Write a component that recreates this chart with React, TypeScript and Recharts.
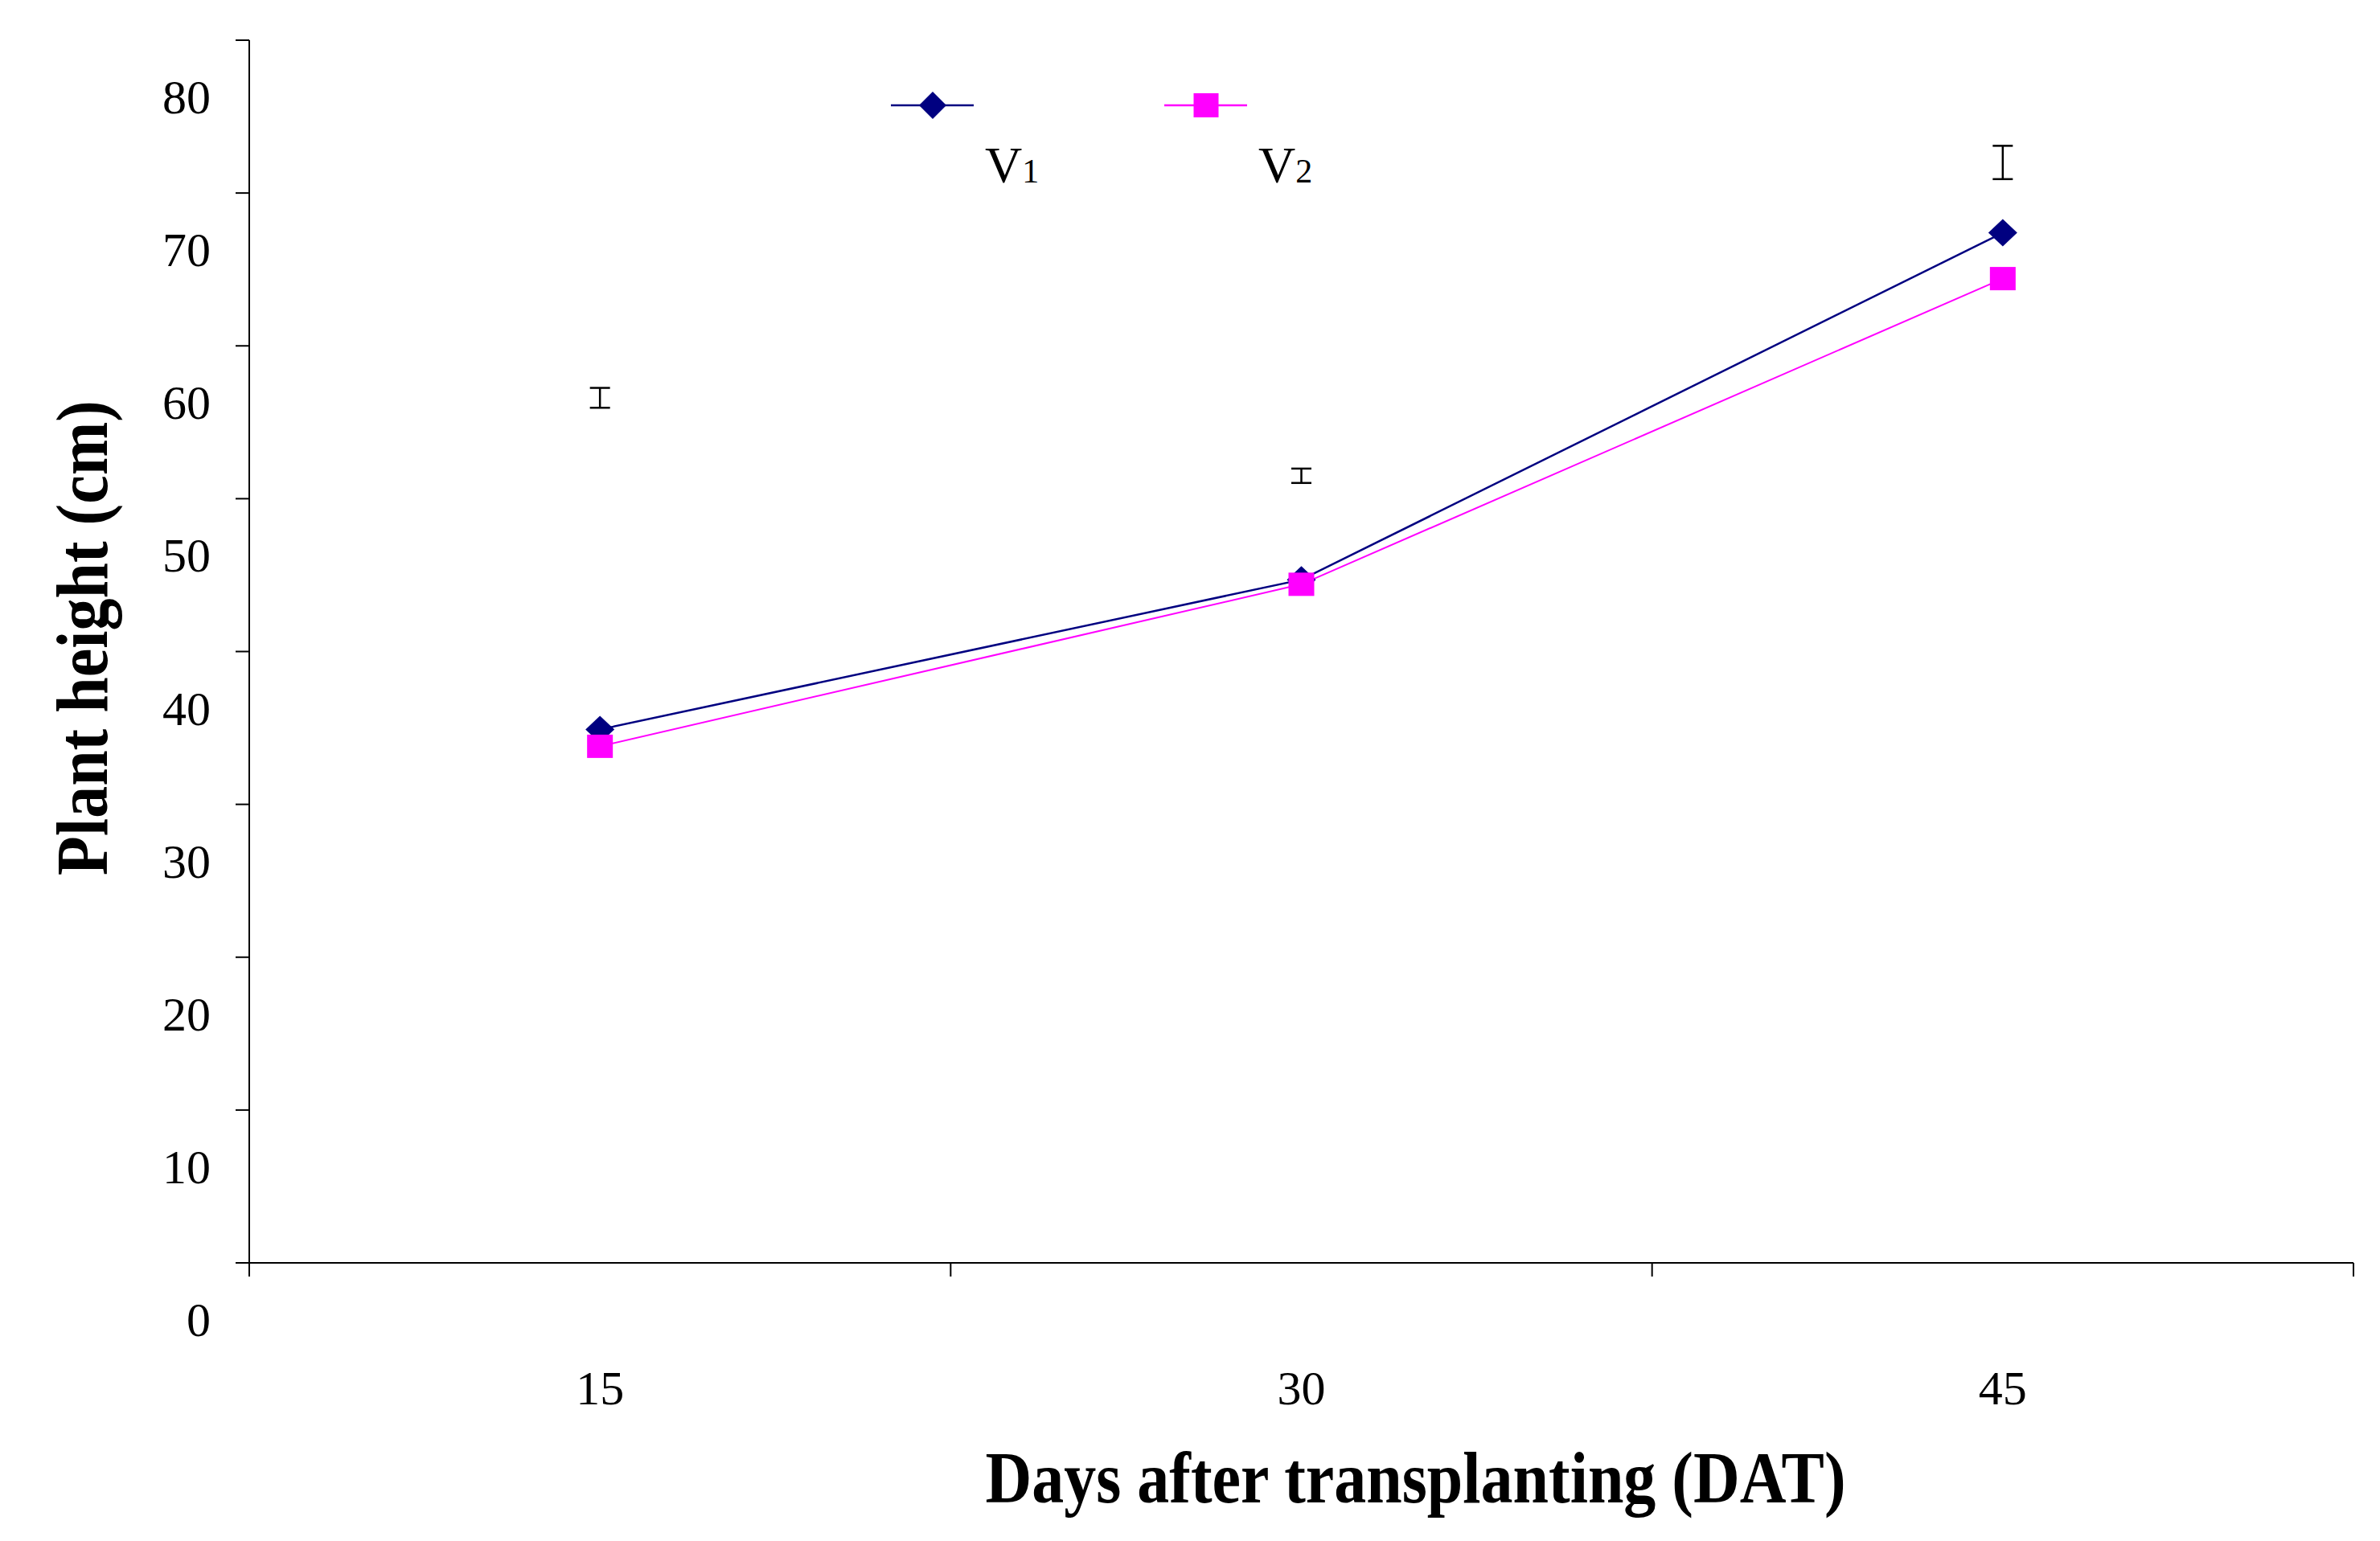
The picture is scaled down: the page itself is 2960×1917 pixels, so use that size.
import { LineChart, Line, XAxis, YAxis, ErrorBar, Legend } from "recharts";

// values (cm)
const days = ["15", "30", "45"];
const v1Height = [34.9, 44.7, 67.4];
const v2Height = [33.8, 44.4, 64.4];
const lsdCentre = [56.6, 51.5, 72.0];
const lsdHalf = [0.65, 0.47, 1.09];
const yTicks = [0, 10, 20, 30, 40, 50, 60, 70, 80];
const xTicks = [0, 0.5, 1, 1.5, 2, 2.5, 3];

const data = days.map((day, i) => ({
  pos: i + 0.5,
  day,
  v1: v1Height[i],
  v2: v2Height[i],
  lsd: lsdCentre[i],
  lsdErr: lsdHalf[i],
}));

const FONT = "'Liberation Serif', 'Times New Roman', serif";
const NAVY = "#000080";
const MAGENTA = "#FF00FF";

const Diamond = ({ cx, cy }: any) => {
  if (cx == null || cy == null) return null;
  return (
    <polygon
      points={`${cx},${cy - 17} ${cx + 18},${cy} ${cx},${cy + 17} ${cx - 18},${cy}`}
      fill={NAVY}
    />
  );
};

const Square = ({ cx, cy }: any) => {
  if (cx == null || cy == null) return null;
  return <rect x={cx - 16} y={cy - 14.5} width={32} height={29} fill={MAGENTA} />;
};

const XTick = ({ x, y, payload }: any) => {
  const v = payload.value;
  if (Number.isInteger(v)) {
    return <line x1={x} y1={y} x2={x} y2={y + 17} stroke="#000" strokeWidth={2} />;
  }
  return (
    <text x={x} y={y + 156} textAnchor="middle" dominantBaseline="central" fontFamily={FONT} fontSize={60} fill="#000">
      {days[Math.floor(v)]}
    </text>
  );
};

const YTick = ({ x, y, payload }: any) => (
  <text x={x} y={y + 71} textAnchor="end" dominantBaseline="central" fontFamily={FONT} fontSize={60} fill="#000">
    {payload.value}
  </text>
);

const XTitle = ({ viewBox }: any) => {
  const cx = viewBox.x + viewBox.width / 2 + 142;
  const by = viewBox.y + 298;
  return (
    <text transform={`translate(${cx},${by}) scale(1,1.15)`} textAnchor="middle" fontFamily={FONT} fontWeight="bold" fontSize={80} fill="#000">
      Days after transplanting (DAT)
    </text>
  );
};

const YTitle = ({ viewBox }: any) => {
  const cy = viewBox.y + viewBox.height / 2 - 17;
  return (
    <text transform={`translate(133,${cy}) rotate(-90) scale(1,1.15)`} textAnchor="middle" fontFamily={FONT} fontWeight="bold" fontSize={80} fill="#000">
      Plant height (cm)
    </text>
  );
};

const LegendContent = ({ payload }: any) => {
  const items = (payload || []).filter((p: any) => p.dataKey === "v1" || p.dataKey === "v2");
  return (
    <svg width={2960} height={260} style={{ display: "block" }}>
      {items.map((entry: any, i: number) => {
        const cx = 1160 + i * 340;
        const cy = 131;
        const name = String(entry.value);
        return (
          <g key={name}>
            <line x1={cx - 52} y1={cy} x2={cx + 51} y2={cy} stroke={entry.color} strokeWidth={2.5} />
            {entry.dataKey === "v1" ? (
              <polygon points={`${cx},${cy - 17} ${cx + 17},${cy} ${cx},${cy + 17} ${cx - 17},${cy}`} fill={NAVY} />
            ) : (
              <rect x={cx - 15.5} y={cy - 15} width={31} height={30} fill={MAGENTA} />
            )}
            <text x={cx + 65} y={227} fontFamily={FONT} fontSize={64} fill="#000">
              {name.slice(0, 1)}
              <tspan fontSize={42}>{name.slice(1)}</tspan>
            </text>
          </g>
        );
      })}
    </svg>
  );
};

export default function App() {
  return (
    <div style={{ width: 2960, height: 1917, background: "#fff" }}>
      <style>{"body{margin:0;background:#fff}"}</style>
      <LineChart
        width={2960}
        height={1917}
        data={data}
        margin={{ top: 50, right: 33, bottom: 0, left: 0 }}
      >
        <XAxis
          type="number"
          dataKey="pos"
          domain={[0, 3]}
          ticks={xTicks}
          interval={0}
          height={346}
          tickLine={false}
          tickSize={0}
          tickMargin={0}
          tick={<XTick />}
          axisLine={{ stroke: "#000", strokeWidth: 2 }}
          label={<XTitle />}
        />
        <YAxis
          type="number"
          domain={[0, 80]}
          ticks={yTicks}
          interval={0}
          width={310}
          tickSize={17}
          tickMargin={31}
          tickLine={{ stroke: "#000", strokeWidth: 2 }}
          axisLine={{ stroke: "#000", strokeWidth: 2 }}
          tick={<YTick />}
          label={<YTitle />}
        />
        <Legend
          layout="horizontal"
          verticalAlign="middle"
          align="center"
          content={<LegendContent />}
          wrapperStyle={{ left: 0, top: 0, width: 2960, height: 260 }}
        />
        <Line
          type="linear"
          dataKey="v1"
          name="V1"
          stroke={NAVY}
          strokeWidth={2.5}
          dot={<Diamond />}
          activeDot={false}
          isAnimationActive={false}
        />
        <Line
          type="linear"
          dataKey="v2"
          name="V2"
          stroke={MAGENTA}
          strokeWidth={2}
          dot={<Square />}
          activeDot={false}
          isAnimationActive={false}
        />
        <Line
          type="linear"
          dataKey="lsd"
          name="LSD"
          stroke="none"
          dot={false}
          activeDot={false}
          legendType="none"
          isAnimationActive={false}
        >
          <ErrorBar dataKey="lsdErr" width={12.5} stroke="#000" strokeWidth={2.5} direction="y" />
        </Line>
      </LineChart>
    </div>
  );
}
